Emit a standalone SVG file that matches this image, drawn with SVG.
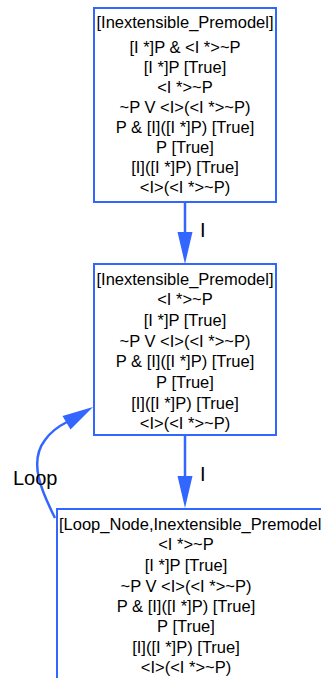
<svg xmlns="http://www.w3.org/2000/svg" width="321" height="678" viewBox="0 0 321 678">
<style>
.box{fill:#ffffff;stroke:#3366ff;stroke-width:2}
.t{font-family:"Liberation Sans",Arial,sans-serif;font-size:16.5px;fill:#000;text-anchor:middle}
.e{fill:none;stroke:#3366ff;stroke-width:2.5}
.h{fill:#3366ff;stroke:none}
.lbl{font-family:"Liberation Sans",Arial,sans-serif;font-size:20px;fill:#000}
</style>
<rect width="321" height="678" fill="#ffffff"/>
<g id="connectors">
<g id="edge1">
<line class="e" x1="185" y1="202" x2="185" y2="234"/>
<polygon class="h" points="177.5,232 192.5,232 185,264"/>
<text class="lbl" x="200" y="237">I</text>
</g>
<g id="edge2">
<line class="e" x1="185" y1="435" x2="185" y2="478"/>
<polygon class="h" points="177.5,476 192.5,476 185,508"/>
<text class="lbl" x="200" y="481">I</text>
</g>
<g id="edge3">
<path class="e" d="M 55 518 C 42 492, 28 462, 45 440 C 50 433, 57 427, 67 422"/>
<polygon class="h" points="62.5,416 70.5,429.5 93,407"/>
<text class="lbl" x="13" y="485">Loop</text>
</g>
</g>
<g id="node1">
<rect class="box" x="94" y="8" width="182" height="194"/>
<text class="t" x="185" y="28">[Inextensible_Premodel]</text>
<text class="t" x="185" y="53">[I *]P &amp; &lt;I *&gt;~P</text>
<text class="t" x="185" y="73">[I *]P [True]</text>
<text class="t" x="185" y="93">&lt;I *&gt;~P</text>
<text class="t" x="185" y="113">~P V &lt;I&gt;(&lt;I *&gt;~P)</text>
<text class="t" x="185" y="133">P &amp; [I]([I *]P) [True]</text>
<text class="t" x="185" y="153">P [True]</text>
<text class="t" x="185" y="173">[I]([I *]P) [True]</text>
<text class="t" x="185" y="193">&lt;I&gt;(&lt;I *&gt;~P)</text>
</g>
<g id="node2">
<rect class="box" x="94" y="264" width="182" height="171"/>
<text class="t" x="185" y="285">[Inextensible_Premodel]</text>
<text class="t" x="185" y="305">&lt;I *&gt;~P</text>
<text class="t" x="185" y="326">[I *]P [True]</text>
<text class="t" x="185" y="347">~P V &lt;I&gt;(&lt;I *&gt;~P)</text>
<text class="t" x="185" y="367">P &amp; [I]([I *]P) [True]</text>
<text class="t" x="185" y="388">P [True]</text>
<text class="t" x="185" y="409">[I]([I *]P) [True]</text>
<text class="t" x="185" y="429">&lt;I&gt;(&lt;I *&gt;~P)</text>
</g>
<g id="node3">
<rect class="box" x="57" y="509" width="290" height="200"/>
<text class="t" x="59" y="530" style="text-anchor:start">[Loop_Node,Inextensible_Premodel]</text>
<text class="t" x="186" y="550">&lt;I *&gt;~P</text>
<text class="t" x="186" y="571">[I *]P [True]</text>
<text class="t" x="186" y="592">~P V &lt;I&gt;(&lt;I *&gt;~P)</text>
<text class="t" x="186" y="612">P &amp; [I]([I *]P) [True]</text>
<text class="t" x="186" y="632">P [True]</text>
<text class="t" x="186" y="653">[I]([I *]P) [True]</text>
<text class="t" x="186" y="673">&lt;I&gt;(&lt;I *&gt;~P)</text>
</g>
</svg>
